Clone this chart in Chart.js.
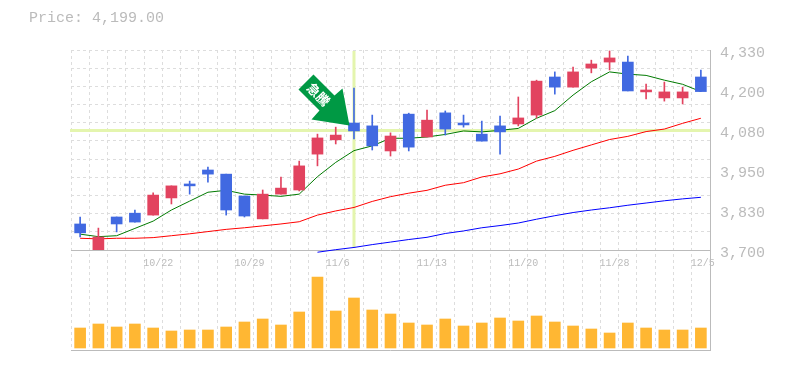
<!DOCTYPE html>
<html>
<head>
<meta charset="utf-8">
<style>
  html, body { margin: 0; padding: 0; background: #fff; }
  #wrap { position: relative; width: 785px; height: 370px; }
  #price { position: absolute; left: 29px; top: 10px; font: 15px "Liberation Mono", monospace; color: #bbb; }
</style>
<script src="https://cdn.jsdelivr.net/npm/chart.js@4"></script>
</head>
<body>
<div id="wrap">
  <div id="price">Price: 4,199.00</div>
  <canvas id="chart" width="785" height="370"></canvas>
</div>
<script>
// dados
const dateLabels = ['', '', '', '', '10/22', '', '', '', '', '10/29', '', '', '', '', '11/6', '', '', '', '', '11/13', '', '', '', '', '11/20', '', '', '', '', '11/28', '', '', '', '', '12/5'];
const opens  = [3782, 3690, 3804, 3816, 3810, 3864, 3908, 3952, 3939, 3870, 3798, 3876, 3889, 4002, 4047, 4100, 4091, 4012, 4128, 4056, 4132, 4100, 4065, 4091, 4097, 4125, 4245, 4213, 4273, 4292, 4292, 4198, 4179, 4179, 4245];
const closes = [3754, 3741, 3782, 3788, 3873, 3902, 3902, 3939, 3826, 3807, 3876, 3895, 3965, 4053, 4062, 4075, 4028, 4059, 4024, 4109, 4081, 4094, 4043, 4072, 4116, 4232, 4213, 4261, 4286, 4305, 4201, 4204, 4198, 4198, 4199];
const highs  = [3804, 3769, 3804, 3826, 3880, 3902, 3917, 3961, 3939, 3870, 3889, 3930, 3980, 4065, 4087, 4210, 4125, 4069, 4131, 4141, 4138, 4125, 4106, 4122, 4182, 4235, 4261, 4276, 4298, 4327, 4311, 4223, 4229, 4213, 4267];
const lows   = [3741, 3685, 3757, 3788, 3810, 3845, 3876, 3914, 3810, 3804, 3798, 3876, 3886, 3965, 4034, 4050, 4015, 3996, 4012, 4056, 4062, 4087, 4043, 4002, 4091, 4116, 4191, 4213, 4258, 4267, 4201, 4176, 4169, 4160, 4199];
const maShort = [3750, 3742, 3745, 3768, 3791, 3826, 3854, 3882, 3888, 3876, 3873, 3869, 3876, 3931, 3976, 4013, 4028, 4052, 4052, 4056, 4064, 4075, 4072, 4077, 4083, 4115, 4139, 4188, 4230, 4261, 4254, 4250, 4235, 4222, 4199];
const maMid   = [3737, 3735, 3737, 3737, 3739, 3745, 3751, 3758, 3765, 3770, 3776, 3782, 3789, 3810, 3823, 3834, 3853, 3868, 3879, 3888, 3904, 3912, 3930, 3940, 3955, 3980, 3995, 4014, 4031, 4048, 4058, 4073, 4081, 4099, 4115];
const maLong  = [null, null, null, null, null, null, null, null, null, null, null, null, null, 3693, 3701, 3708, 3717, 3725, 3733, 3740, 3752, 3760, 3770, 3777, 3785, 3797, 3808, 3818, 3826, 3833, 3841, 3848, 3855, 3861, 3866];
const volumes = [20, 24, 21, 24, 20, 17, 18, 18, 21, 26, 29, 23, 36, 71, 37, 50, 38, 34, 25, 23, 29, 22, 25, 30, 27, 32, 26, 22, 19, 15, 25, 20, 18, 18, 20];
const priceTicks = [4330, 4204, 4078, 3952, 3826, 3700];
const priceTickLabels = ['4,330', '4,200', '4,080', '3,950', '3,830', '3,700'];

const priceMin = 3700, priceMax = 4330, gridRows = 11;
const signalIndex = 15, signalPrice = 4078;

const RED = '#e2435f', BLUE = '#4169e1', AXIS = '#bbbbbb', GRID = '#dddddd', CROSS = '#e4f5ae';
const candleColors = opens.map((o, i) => closes[i] >= o ? RED : BLUE);

// cruz amarela e seta do sinal, presas nas escalas
const signalPlugin = {
    id: 'signal',
    beforeDatasetsDraw(chart) {
        const { ctx, scales: { x, y } } = chart;
        const px = x.getPixelForValue(signalIndex), py = y.getPixelForValue(signalPrice);
        ctx.save();
        ctx.fillStyle = CROSS;
        ctx.fillRect(x.left - 1, py - 1, x.right - x.left + 1, 3);
        ctx.fillRect(px - 1.5, y.top + 1, 3, y.bottom - y.top - 3);
        ctx.restore();
    },
    afterDatasetsDraw(chart) {
        const { ctx, scales: { x, y } } = chart;
        const tipX = x.getPixelForValue(signalIndex) - 4.5, tipY = y.getPixelForValue(opens[signalIndex]) + 2.5;
        const shape = [[0, 0], [-7, -37], [-15, -30], [-36, -51], [-51, -36], [-30, -15], [-38, -6]];
        ctx.save();
        ctx.translate(tipX, tipY);
        ctx.fillStyle = '#009944';
        ctx.beginPath();
        shape.forEach((p, i) => i ? ctx.lineTo(p[0], p[1]) : ctx.moveTo(p[0], p[1]));
        ctx.closePath();
        ctx.fill();
        ctx.translate(-31, -31);
        ctx.rotate(Math.PI / 4);
        ctx.fillStyle = '#fff';
        ctx.font = 'bold 13px "Noto Sans CJK JP"';
        ctx.textAlign = 'center';
        ctx.textBaseline = 'middle';
        ctx.fillText('急騰', 0, 0);
        ctx.restore();
    }
};

function lineSet(data, color, order) {
    return { type: 'line', data, borderColor: color, borderWidth: 1, pointRadius: 0, tension: 0, yAxisID: 'y', order,
             clip: { left: 0, top: 0, right: 0, bottom: 3 } };
}

new Chart(document.getElementById('chart'), {
    type: 'bar',
    data: {
        labels: dateLabels,
        datasets: [
            { data: opens.map((o, i) => [o, closes[i]]), backgroundColor: candleColors, barThickness: 11, grouped: false, yAxisID: 'y', order: 1 },
            { data: lows.map((l, i) => [l, highs[i]]), backgroundColor: candleColors, barThickness: 1, grouped: false, yAxisID: 'y', order: 2 },
            lineSet(maShort, '#007a00', 3),
            lineSet(maMid, '#ff0000', 4),
            lineSet(maLong, '#0000ff', 5),
            { data: volumes, backgroundColor: '#ffb733', barThickness: 11, grouped: false, yAxisID: 'yVol', order: 6 }
        ]
    },
    options: {
        responsive: false,
        animation: false,
        layout: { padding: { left: 71, top: 50, bottom: 20, right: 0 } },
        plugins: { legend: { display: false }, tooltip: { enabled: false } },
        scales: {
            x: {
                position: { yVol: 98 },
                grid: { color: GRID, offset: true, drawTicks: false },
                border: { display: false, dash: [3, 3] },
                ticks: {
                    autoSkip: false, maxRotation: 0, minRotation: 0, align: 'start', labelOffset: -10, padding: 7,
                    color: AXIS, font: { family: '"Liberation Mono", monospace', size: 10 }
                }
            },
            y: {
                position: 'right', stack: 'panels', stackWeight: 2, weight: 1,
                min: priceMin, max: priceMax,
                afterBuildTicks(scale) {
                    const gridValues = [];
                    for (let k = 0; k <= gridRows; k++) gridValues.push(priceMin + (priceMax - priceMin) * k / gridRows);
                    scale.ticks = gridValues.map(v => ({ value: v, isGrid: true }))
                        .concat(priceTicks.slice(1, -1).map(v => ({ value: v, isGrid: false })));
                },
                afterFit(scale) { scale.width = 75; },
                grid: {
                    drawTicks: false,
                    color: c => c.tick && c.tick.isGrid ? (c.tick.value === priceMin ? AXIS : GRID) : 'rgba(0,0,0,0)'
                },
                border: { color: AXIS, dash: c => c.tick && c.tick.value === priceMin ? [] : [3, 3] },
                ticks: {
                    autoSkip: false, padding: 10, labelOffset: 3, color: AXIS,
                    font: { family: '"Liberation Mono", monospace', size: 15 },
                    callback(v) {
                        const i = priceTicks.indexOf(v);
                        return i < 0 ? '' : priceTickLabels[i];
                    }
                }
            },
            yVol: {
                position: 'right', stack: 'panels', stackWeight: 1, weight: 2,
                min: -2, max: 98,
                afterBuildTicks(scale) { scale.ticks = [{ value: -2 }]; },
                afterFit(scale) { scale.width = 75; },
                grid: { drawTicks: false, color: AXIS },
                border: { color: AXIS },
                ticks: { display: false }
            }
        }
    },
    plugins: [signalPlugin]
});
</script>
</body>
</html>
